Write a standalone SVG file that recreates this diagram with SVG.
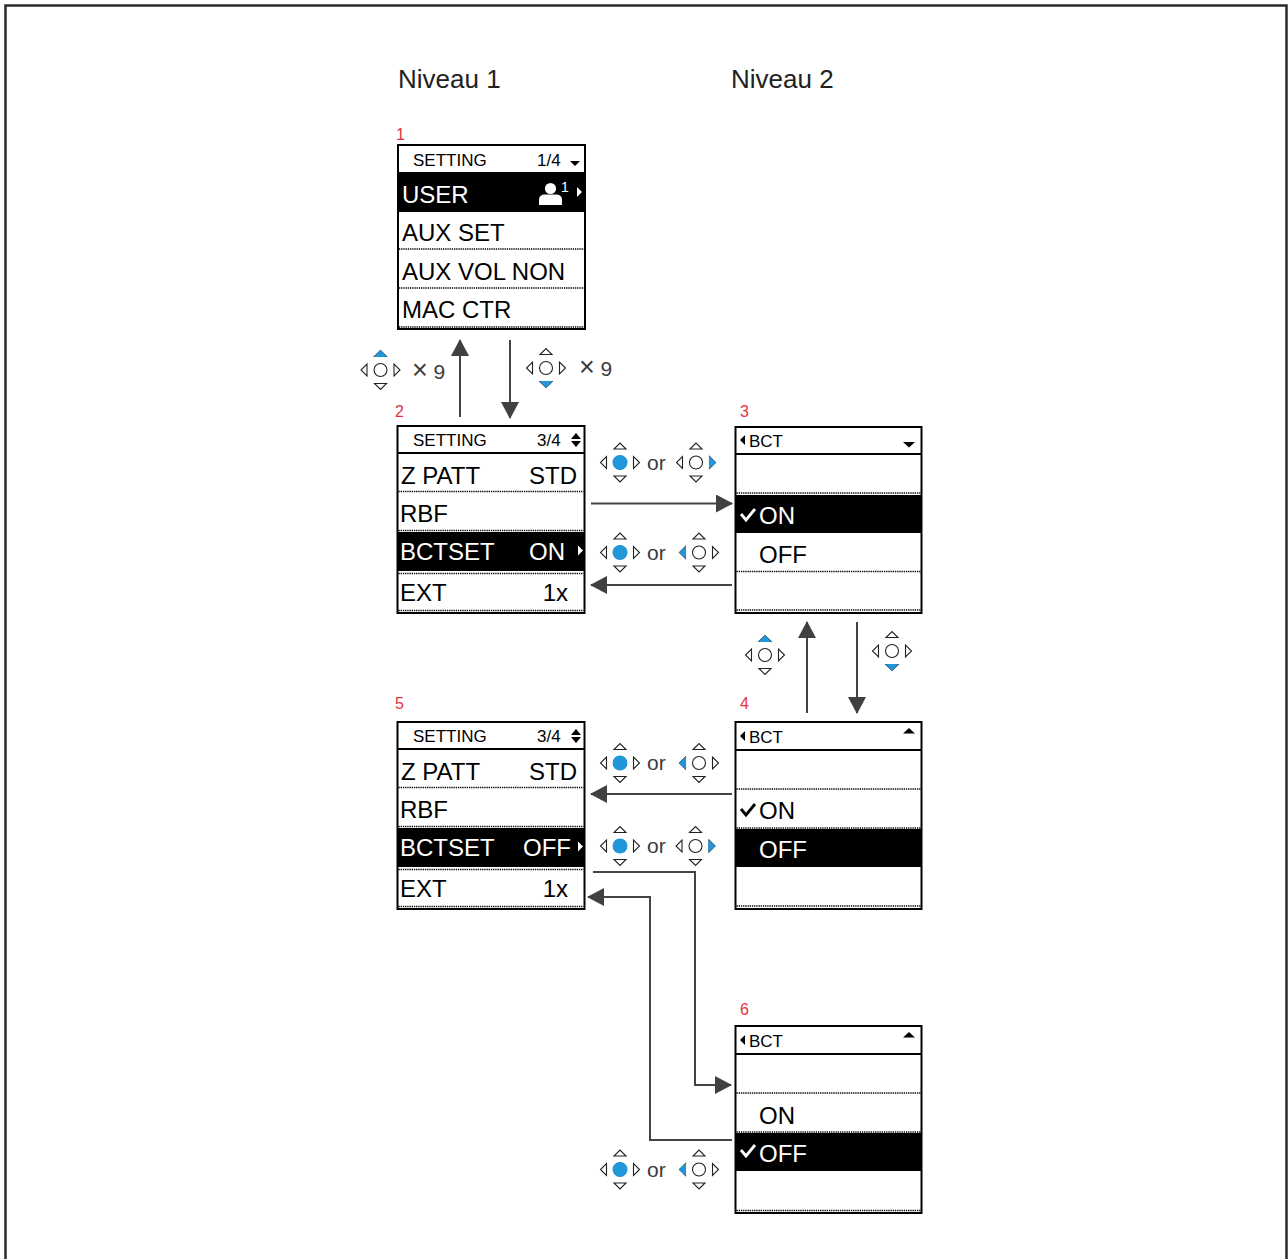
<svg xmlns="http://www.w3.org/2000/svg" xmlns:xlink="http://www.w3.org/1999/xlink" width="1288" height="1259" viewBox="0 0 1288 1259">
<style>
.frame{fill:none;stroke:#2a2a2a;stroke-width:2.5}
.scr{fill:#fff;stroke:#000;stroke-width:2}
.sep{stroke:#000;stroke-width:2}
.hl{fill:#000}
.dot{stroke:#000;stroke-width:1.5;stroke-dasharray:1.3 0.9}
.t{font-family:"Liberation Sans",Arial,sans-serif;font-size:24px;fill:#000}
.w{fill:#fff}
.h{font-family:"Liberation Sans",Arial,sans-serif;font-size:17px;fill:#000}
.red{font-family:"Liberation Sans",Arial,sans-serif;font-size:16px;fill:#e3343b}
.g{font-family:"Liberation Sans",Arial,sans-serif;font-size:21px;fill:#3c3c3c}
.x{font-size:27px}
.title{font-family:"Liberation Sans",Arial,sans-serif;font-size:26px;fill:#222}
.conn{fill:none;stroke:#444;stroke-width:2;marker-end:url(#ah)}
.jo{fill:#fff;stroke:#222;stroke-width:1.1}
.bl{fill:#2196d8}
.ckw{fill:none;stroke:#fff;stroke-width:2.8}
.ckb{fill:none;stroke:#000;stroke-width:2.8}
</style>
<defs>
<marker id="ah" viewBox="0 0 17 18" refX="16" refY="9" markerWidth="17" markerHeight="18" markerUnits="userSpaceOnUse" orient="auto"><path d="M0,0 L17,9 L0,18 Z" fill="#404040"/></marker>
<g id="joy" class="jo"><circle r="6.5"/><path d="M-6,-13.5 L6,-13.5 L0,-19.5 Z M-6,13.5 L6,13.5 L0,19.5 Z M-13.5,-6 L-13.5,6 L-19.5,0 Z M13.5,-6 L13.5,6 L19.5,0 Z"/></g>
<circle id="bC" r="7.5" class="bl"/>
<path id="bU" d="M-6.5,-13 L6.5,-13 L0,-20 Z" class="bl"/>
<path id="bD" d="M-6.5,13 L6.5,13 L0,20 Z" class="bl"/>
<path id="bL" d="M-13,-6.5 L-13,6.5 L-20,0 Z" class="bl"/>
<path id="bR" d="M13,-6.5 L13,6.5 L20,0 Z" class="bl"/>
</defs>

<rect class="frame" x="5.5" y="5.5" width="1281" height="1300"/>

<text class="title" x="398" y="88">Niveau 1</text>
<text class="title" x="731" y="88">Niveau 2</text>

<text class="red" x="396" y="140">1</text>
<text class="red" x="395" y="417">2</text>
<text class="red" x="740" y="417">3</text>
<text class="red" x="740" y="709">4</text>
<text class="red" x="395" y="709">5</text>
<text class="red" x="740" y="1015">6</text>

<g id="screen1">
<rect class="scr" x="398" y="145" width="187" height="184"/>
<rect class="hl" x="398" y="172" width="187" height="40"/>
<line class="dot" x1="399" y1="249" x2="584" y2="249"/>
<line class="dot" x1="399" y1="288" x2="584" y2="288"/>
<line class="dot" x1="399" y1="327" x2="584" y2="327"/>
<text class="h" x="413" y="166">SETTING</text>
<text class="h" x="537" y="166">1/4</text>
<path d="M570,161 L580,161 L575,166 Z"/>
<text class="t w" x="402" y="203">USER</text>
<circle cx="550.5" cy="188.5" r="5.6" fill="#fff"/>
<path d="M539,205 L539,200 Q539,194.5 545,194.5 L556,194.5 Q562,194.5 562,200 L562,205 Z" fill="#fff"/>
<text x="561" y="192" font-family="Liberation Sans, Arial, sans-serif" font-size="14" fill="#fff">1</text>
<path d="M577,187 L582,192 L577,197 Z" fill="#fff"/>
<text class="t" x="402" y="241">AUX SET</text>
<text class="t" x="402" y="280">AUX VOL NON</text>
<text class="t" x="402" y="318">MAC CTR</text>
</g>

<g id="screen2">
<rect class="scr" x="397.5" y="426" width="187" height="187"/>
<line class="sep" x1="397.5" y1="453" x2="584.5" y2="453"/>
<line class="dot" x1="398.5" y1="491.5" x2="583.5" y2="491.5"/>
<line class="dot" x1="398.5" y1="530.5" x2="583.5" y2="530.5"/>
<rect class="hl" x="397.5" y="532" width="187" height="39"/>
<line class="dot" x1="398.5" y1="573.5" x2="583.5" y2="573.5"/>
<line class="dot" x1="398.5" y1="610.5" x2="583.5" y2="610.5"/>
<text class="h" x="413" y="446">SETTING</text>
<text class="h" x="537" y="446">3/4</text>
<path d="M571,439 L581,439 L576,433 Z M571,441 L581,441 L576,447 Z"/>
<text class="t" x="401" y="484">Z PATT</text>
<text class="t" x="577" y="484" text-anchor="end">STD</text>
<text class="t" x="400" y="522">RBF</text>
<text class="t w" x="400" y="560">BCTSET</text>
<text class="t w" x="529" y="560">ON</text>
<path d="M578,545.5 L583,550.5 L578,555.5 Z" fill="#fff"/>
<text class="t" x="400" y="601">EXT</text>
<text class="t" x="568" y="601" text-anchor="end">1x</text>
</g>

<g id="screen5">
<rect class="scr" x="397.5" y="722" width="187" height="187"/>
<line class="sep" x1="397.5" y1="749" x2="584.5" y2="749"/>
<line class="dot" x1="398.5" y1="787.5" x2="583.5" y2="787.5"/>
<line class="dot" x1="398.5" y1="826.5" x2="583.5" y2="826.5"/>
<rect class="hl" x="397.5" y="828" width="187" height="39"/>
<line class="dot" x1="398.5" y1="869.5" x2="583.5" y2="869.5"/>
<line class="dot" x1="398.5" y1="906.5" x2="583.5" y2="906.5"/>
<text class="h" x="413" y="742">SETTING</text>
<text class="h" x="537" y="742">3/4</text>
<path d="M571,735 L581,735 L576,729 Z M571,737 L581,737 L576,743 Z"/>
<text class="t" x="401" y="780">Z PATT</text>
<text class="t" x="577" y="780" text-anchor="end">STD</text>
<text class="t" x="400" y="818">RBF</text>
<text class="t w" x="400" y="856">BCTSET</text>
<text class="t w" x="523" y="856">OFF</text>
<path d="M578,841.5 L583,846.5 L578,851.5 Z" fill="#fff"/>
<text class="t" x="400" y="897">EXT</text>
<text class="t" x="568" y="897" text-anchor="end">1x</text>
</g>

<g id="screen3">
<rect class="scr" x="735.5" y="427" width="186" height="186"/>
<line class="sep" x1="735.5" y1="454" x2="921.5" y2="454"/>
<line class="dot" x1="736.5" y1="493" x2="920.5" y2="493"/>
<rect class="hl" x="735.5" y="495" width="186" height="38"/>
<line class="dot" x1="736.5" y1="571.5" x2="920.5" y2="571.5"/>
<line class="dot" x1="736.5" y1="610" x2="920.5" y2="610"/>
<path d="M745,435 L745,445 L740,440 Z"/>
<text class="h" x="749" y="447">BCT</text>
<path d="M903,442 L915,442 L909,447.5 Z"/>
<polyline class="ckw" points="741,514 746,520 755,509"/>
<text class="t w" x="759" y="524">ON</text>
<text class="t" x="759" y="563">OFF</text>
</g>

<g id="screen4">
<rect class="scr" x="735.5" y="722" width="186" height="187"/>
<line class="sep" x1="735.5" y1="750" x2="921.5" y2="750"/>
<line class="dot" x1="736.5" y1="789" x2="920.5" y2="789"/>
<line class="dot" x1="736.5" y1="828" x2="920.5" y2="828"/>
<rect class="hl" x="735.5" y="829" width="186" height="38"/>
<line class="dot" x1="736.5" y1="906" x2="920.5" y2="906"/>
<path d="M745,731 L745,741 L740,736 Z"/>
<text class="h" x="749" y="743">BCT</text>
<path d="M903,733.5 L915,733.5 L909,728 Z"/>
<polyline class="ckb" points="741,809 746,815 755,804"/>
<text class="t" x="759" y="819">ON</text>
<text class="t w" x="759" y="858">OFF</text>
</g>

<g id="screen6">
<rect class="scr" x="735.5" y="1026" width="186" height="187"/>
<line class="sep" x1="735.5" y1="1054" x2="921.5" y2="1054"/>
<line class="dot" x1="736.5" y1="1093" x2="920.5" y2="1093"/>
<line class="dot" x1="736.5" y1="1132" x2="920.5" y2="1132"/>
<rect class="hl" x="735.5" y="1133" width="186" height="38"/>
<line class="dot" x1="736.5" y1="1210.5" x2="920.5" y2="1210.5"/>
<path d="M745,1035 L745,1045 L740,1040 Z"/>
<text class="h" x="749" y="1047">BCT</text>
<path d="M903,1037.5 L915,1037.5 L909,1032 Z"/>
<text class="t" x="759" y="1124">ON</text>
<polyline class="ckw" points="741,1150 746,1156 755,1145"/>
<text class="t w" x="759" y="1162">OFF</text>
</g>

<g id="connectors">
<line class="conn" x1="460" y1="417" x2="460" y2="340"/>
<line class="conn" x1="510" y1="340" x2="510" y2="418"/>
<line class="conn" x1="591" y1="503.5" x2="732" y2="503.5"/>
<line class="conn" x1="732" y1="585" x2="591" y2="585"/>
<line class="conn" x1="807" y1="713" x2="807" y2="622"/>
<line class="conn" x1="857" y1="622" x2="857" y2="713"/>
<line class="conn" x1="732" y1="794" x2="591" y2="794"/>
<polyline class="conn" points="593,872 695,872 695,1085 731,1085"/>
<polyline class="conn" points="732,1140 650,1140 650,897 588,897"/>
</g>

<g id="icons">
<use xlink:href="#joy" href="#joy" x="380.5" y="370"/><use xlink:href="#bU" href="#bU" x="380.5" y="370"/>
<text class="g" x="412" y="379"><tspan class="x">×</tspan> 9</text>
<use xlink:href="#joy" href="#joy" x="546" y="368"/><use xlink:href="#bD" href="#bD" x="546" y="368"/>
<text class="g" x="579" y="376"><tspan class="x">×</tspan> 9</text>

<use xlink:href="#joy" href="#joy" x="765" y="655"/><use xlink:href="#bU" href="#bU" x="765" y="655"/>
<use xlink:href="#joy" href="#joy" x="892" y="651"/><use xlink:href="#bD" href="#bD" x="892" y="651"/>

<use xlink:href="#joy" href="#joy" x="620" y="462.5"/><use xlink:href="#bC" href="#bC" x="620" y="462.5"/>
<text class="g" x="647" y="470">or</text>
<use xlink:href="#joy" href="#joy" x="696" y="462.5"/><use xlink:href="#bR" href="#bR" x="696" y="462.5"/>

<use xlink:href="#joy" href="#joy" x="620" y="552.5"/><use xlink:href="#bC" href="#bC" x="620" y="552.5"/>
<text class="g" x="647" y="560">or</text>
<use xlink:href="#joy" href="#joy" x="699" y="552.5"/><use xlink:href="#bL" href="#bL" x="699" y="552.5"/>

<use xlink:href="#joy" href="#joy" x="620" y="763"/><use xlink:href="#bC" href="#bC" x="620" y="763"/>
<text class="g" x="647" y="770">or</text>
<use xlink:href="#joy" href="#joy" x="699" y="763"/><use xlink:href="#bL" href="#bL" x="699" y="763"/>

<use xlink:href="#joy" href="#joy" x="620" y="846"/><use xlink:href="#bC" href="#bC" x="620" y="846"/>
<text class="g" x="647" y="853">or</text>
<use xlink:href="#joy" href="#joy" x="695.5" y="846"/><use xlink:href="#bR" href="#bR" x="695.5" y="846"/>

<use xlink:href="#joy" href="#joy" x="620" y="1169.5"/><use xlink:href="#bC" href="#bC" x="620" y="1169.5"/>
<text class="g" x="647" y="1177">or</text>
<use xlink:href="#joy" href="#joy" x="699" y="1169.5"/><use xlink:href="#bL" href="#bL" x="699" y="1169.5"/>
</g>
</svg>
